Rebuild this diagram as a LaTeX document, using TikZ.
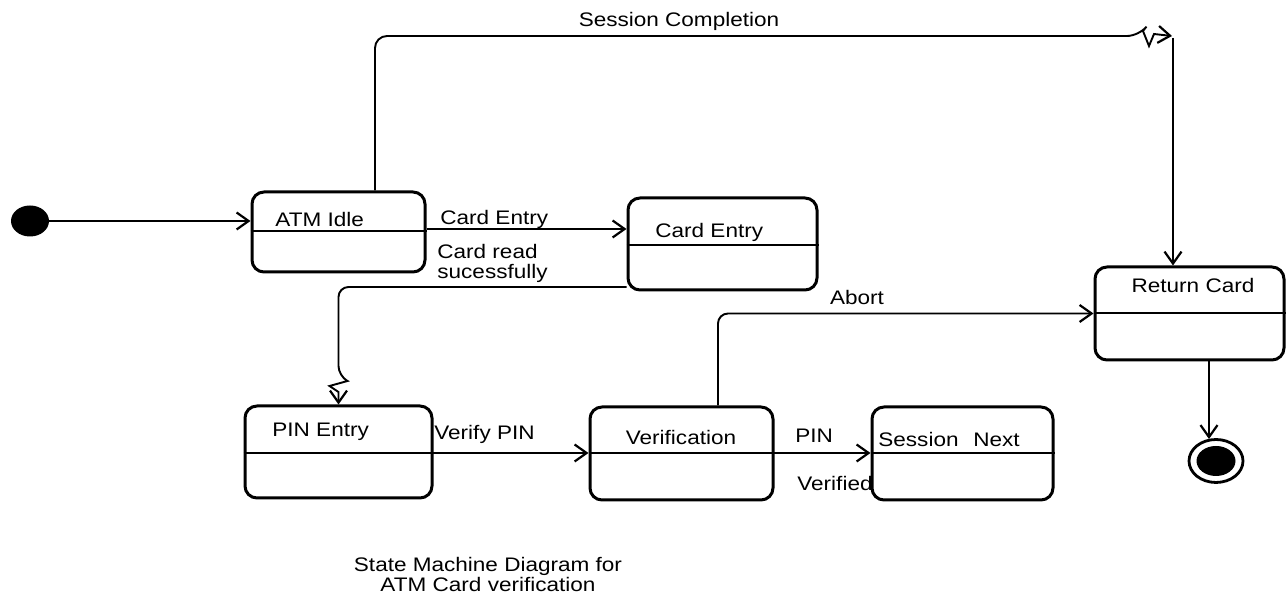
\documentclass[tikz,border=0pt]{standalone}
\usepackage{fontspec}
\setmainfont[FakeStretch=1.15]{Liberation Sans}
\usetikzlibrary{arrows.meta,shapes.geometric}
\begin{document}
\begin{tikzpicture}[x=0.5pt,y=-0.5pt,
  every node/.style={font=\fontsize{9.8}{10}\selectfont},
  statebox/.style={draw, line width=1.5pt, rounded corners=6pt, minimum width=#1, inner sep=0pt},
  divider/.style={line width=1.3pt},
  txt/.style={inner sep=0pt, anchor=base west},
  conn/.style={line width=0.95pt},
  arr/.style={conn, -{Straight Barb[length=6pt,width=8.5pt,line width=1.1pt]}}
]
\useasboundingbox (0,0) rectangle (1286,597);

% states
\node[statebox=86.5pt, minimum height=40pt] (idle) at (338.5,232) {};
\node[statebox=94.5pt, minimum height=46pt] (card) at (722.5,244) {};
\node[statebox=93.5pt, minimum height=46pt] (pin) at (338.5,452) {};
\node[statebox=91.5pt, minimum height=46.5pt] (ver) at (681.5,453.5) {};
\node[statebox=90.5pt, minimum height=46.5pt] (sess) at (962.5,453.5) {};
\node[statebox=94.5pt, minimum height=46.5pt] (rc) at (1189.5,313.5) {};

\draw[divider] (idle.west |- 0,231) -- (idle.east |- 0,231);
\draw[divider] (card.west |- 0,245) -- (card.east |- 0,245);
\draw[divider] (pin.west |- 0,453) -- (pin.east |- 0,453);
\draw[divider] (ver.west |- 0,453) -- (ver.east |- 0,453);
\draw[divider] (sess.west |- 0,453) -- (sess.east |- 0,453);
\draw[divider] (rc.west |- 0,313) -- (rc.east |- 0,313);

\node[txt] (tidle) at (275,227) {ATM Idle};
\node[txt] (tcard) at (655,238) {Card Entry};
\node[txt] (tpin) at (272,437) {PIN Entry};
\node[txt, anchor=base] (tver) at (681,445) {Verification};
\node[txt] (tsess) at (878,447) {Session\hspace{0.75em}Next};
\node[txt, anchor=base] (trc) at (1193,293) {Return Card};

% initial and final
\node[ellipse, fill=black, minimum width=19pt, minimum height=15.5pt, inner sep=0pt] (init) at (30,221) {};
\node[ellipse, draw, line width=1.4pt, minimum width=27pt, minimum height=21.5pt, inner sep=0pt] (final) at (1216,461) {};
\node[ellipse, fill=black, minimum width=19.5pt, minimum height=15pt, inner sep=0pt] (finalin) at (final) {};

% connectors
\draw[arr] (init) -- (init -| idle.west);

\draw[arr] (idle.east |- 0,229) -- (card.west |- 0,229);
\node[txt] (lcard) at (440,225) {Card Entry};
\node[txt, align=left, anchor=north west] (lread) at (437,244) {Card read\\sucessfully};

\coordinate (z1) at (338.5,376);
\draw[arr] (card.west |- 0,287) [rounded corners=5pt] -| (z1) [sharp corners]
  -- ++(9,5) -- ++(-18,5) -- ++(9,6) -- (pin.north);

\draw[arr] (pin.east |- 0,453) -- (ver.west |- 0,453);
\node[txt] (lverify) at (434,440) {Verify PIN};

\draw[arr] (ver.east |- 0,453) -- (sess.west |- 0,453);
\node[txt] (lpin) at (795,443) {PIN};
\node[txt] (lverified) at (797,491) {Verified};

\draw[arr, rounded corners=5pt] (ver.north -| 718,0) |- (rc.west);
\node[txt, anchor=base] (labort) at (857,305) {Abort};

\coordinate (sc) at (1172,36);
\coordinate (zz) at (1139,36);
\draw[arr] (idle.north -| 375,0) [rounded corners=6pt] |- (zz) [sharp corners]
  -- ++(4,-5) -- ++(6,15) -- ++(5,-12) -- (sc);
\node[txt, anchor=base] (lsc) at (679,27) {Session Completion};
\draw[arr] (1173,38) -- (rc.north -| 1173,0);

\draw[arr] (rc.south -| 1209,0) -- (1209,439);

% title
\node[align=center, inner sep=0pt, anchor=north] (title) at (488,557) {State Machine Diagram for\\ATM Card verification};
\end{tikzpicture}
\end{document}
